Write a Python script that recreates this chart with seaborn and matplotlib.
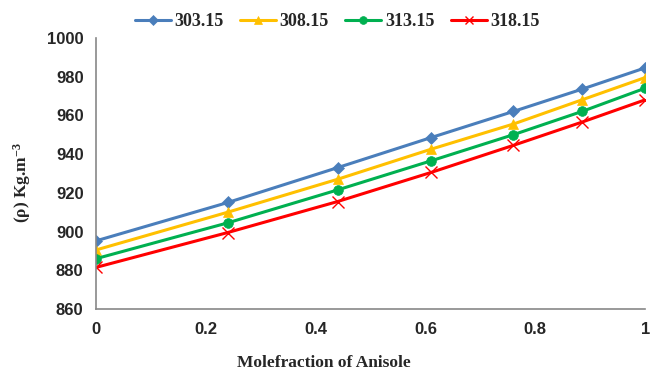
import pandas as pd
import matplotlib
matplotlib.use("Agg")
import matplotlib.pyplot as plt
import seaborn as sns
from matplotlib.ticker import FuncFormatter

# data
molefraction = [0, 0.24, 0.44, 0.61, 0.76, 0.885, 1]
temps = ["303.15", "308.15", "313.15", "318.15"]
rho_303 = [895.2, 915.0, 933.0, 948.5, 962.0, 973.5, 984.5]
rho_308 = [890.5, 910.0, 927.0, 942.5, 955.5, 968.0, 979.5]
rho_313 = [886.0, 904.5, 921.5, 936.5, 950.0, 962.0, 974.0]
rho_318 = [881.5, 899.5, 915.5, 930.5, 944.5, 956.5, 968.0]

colors = ["#4A7EBB", "#FFC000", "#00B050", "#FF0000"]
markers = ["D", "^", "o", "x"]
sizes = [6, 7, 7, 8]

df = pd.DataFrame({
    "x": molefraction * 4,
    "rho": rho_303 + rho_308 + rho_313 + rho_318,
    "T": sum([[t] * len(molefraction) for t in temps], []),
})

sns.set_style("white")
plt.rcParams["mathtext.fontset"] = "custom"
plt.rcParams["mathtext.rm"] = "Liberation Serif:bold"
plt.rcParams["mathtext.default"] = "rm"

fig = plt.figure(figsize=(6.51, 3.71), dpi=100)
ax = fig.add_axes([0.1475, 0.167, 0.8435, 0.731])

for t, c, m, s in zip(temps, colors, markers, sizes):
    sub = df[df["T"] == t]
    sns.lineplot(data=sub, x="x", y="rho", ax=ax, color=c, marker=m,
                 markersize=s, linewidth=2.2, markeredgecolor=c,
                 markeredgewidth=1.0 if m == "x" else 0.5, label=t)

ax.set_xlim(0, 1)
ax.set_ylim(860, 1000)
ax.set_xticks([0, 0.2, 0.4, 0.6, 0.8, 1])
ax.set_yticks(range(860, 1001, 20))
ax.xaxis.set_major_formatter(FuncFormatter(lambda v, p: f"{v:g}"))

for side in ["top", "right"]:
    ax.spines[side].set_visible(False)
for side in ["left", "bottom"]:
    ax.spines[side].set_color("#888888")
    ax.spines[side].set_linewidth(1.2)
ax.tick_params(axis="both", direction="out", length=5, width=1.2,
               color="#888888", labelsize=12, pad=4)
for lbl in ax.get_xticklabels() + ax.get_yticklabels():
    lbl.set_fontfamily("Liberation Sans")
    lbl.set_fontweight("bold")

ax.set_xlabel("Molefraction of Anisole", fontfamily="Liberation Serif",
              fontweight="bold", fontsize=12.5, labelpad=14)
ax.xaxis.set_label_coords(0.415, -0.17)
ax.set_ylabel("(ρ) Kg.m$^{-3}$", fontfamily="Liberation Serif",
              fontweight="bold", fontsize=12.5, labelpad=12)
ax.yaxis.set_label_coords(-0.115, 0.465)

ax.get_legend().remove()
handles, labels = ax.get_legend_handles_labels()
fig.legend(handles, labels, loc="center", bbox_to_anchor=(0.518, 0.942), ncol=4,
           frameon=False, handlelength=2.0, columnspacing=0.9,
           handletextpad=0.2, markerscale=0.8,
           prop={"family": "Liberation Serif", "weight": "bold", "size": 13})

fig.savefig("out.png", dpi=100)
